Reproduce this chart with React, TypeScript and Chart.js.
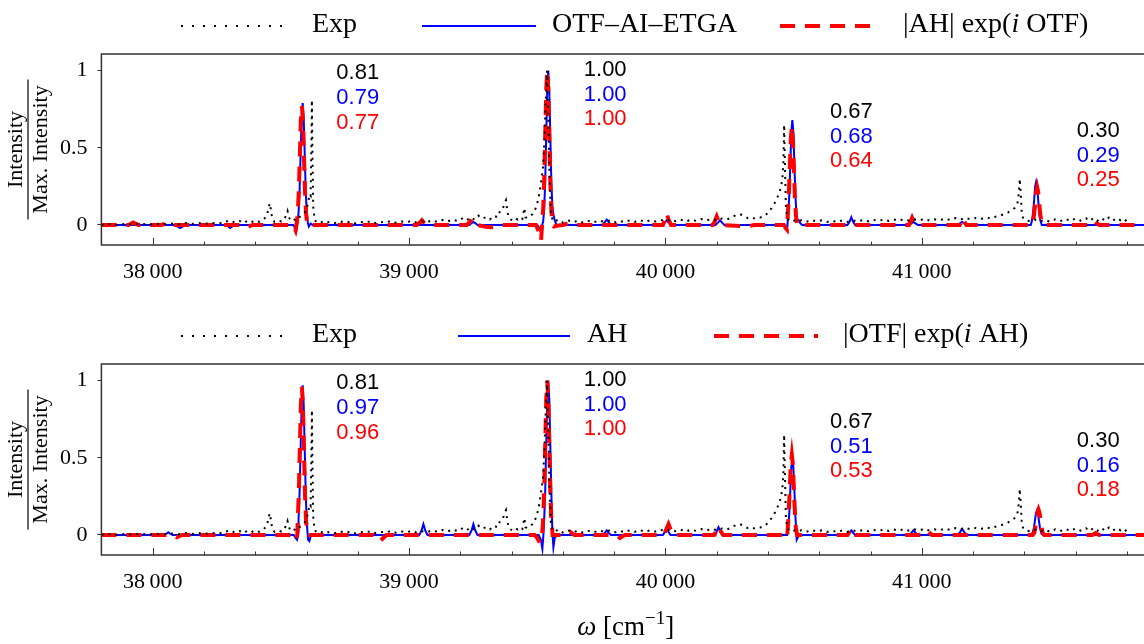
import React, { useEffect, useRef } from 'react';
import { Chart, registerables } from 'chart.js';
Chart.register(...registerables);

type P = [number, number];

// ---------- data (wavenumber in cm^-1, normalised intensity) ----------
const EXP: P[] = [
  [37800,0.002],[37830,0.006],[37860,0.001],[37890,0.007],[37920,0.003],[37950,0.008],[37980,0.002],[38010,0.009],
  [38040,0.004],[38070,0.01],[38100,0.005],[38130,0.012],[38160,0.006],[38190,0.013],[38220,0.007],[38250,0.016],
  [38270,0.01],[38290,0.024],[38305,0.03],[38320,0.015],[38340,0.025],[38355,0.012],[38370,0.028],[38385,0.018],
  [38400,0.03],[38415,0.02],[38430,0.035],[38442,0.05],[38450,0.09],[38456,0.14],[38461,0.1],[38466,0.04],
  [38475,0.02],[38490,0.03],[38502,0.022],[38512,0.035],[38520,0.06],[38526,0.09],[38531,0.05],[38540,0.025],
  [38552,0.035],[38562,0.03],[38572,0.05],[38582,0.06],[38592,0.08],[38600,0.1],[38607,0.15],[38612,0.2],
  [38616,0.19],[38619,0.5],[38621,0.81],[38623,0.5],[38626,0.12],[38632,0.03],[38642,0.015],[38655,0.022],
  [38670,0.01],[38690,0.02],[38710,0.012],[38730,0.024],[38750,0.014],[38770,0.022],[38790,0.01],[38810,0.02],
  [38830,0.015],[38850,0.025],[38870,0.012],[38890,0.02],[38910,0.016],[38930,0.026],[38950,0.013],[38970,0.022],
  [38990,0.017],[39010,0.027],[39030,0.015],[39050,0.024],[39070,0.018],[39090,0.03],[39110,0.02],[39130,0.032],
  [39150,0.022],[39170,0.035],[39190,0.025],[39210,0.045],[39225,0.03],[39240,0.05],[39255,0.035],[39270,0.06],
  [39285,0.04],[39300,0.05],[39315,0.035],[39330,0.06],[39345,0.05],[39355,0.09],[39365,0.1],[39372,0.14],
  [39378,0.16],[39384,0.08],[39392,0.04],[39402,0.03],[39414,0.045],[39424,0.035],[39434,0.05],[39442,0.04],
  [39450,0.11],[39454,0.05],[39462,0.045],[39472,0.06],[39482,0.07],[39492,0.1],[39500,0.14],[39508,0.2],
  [39515,0.28],[39522,0.36],[39528,0.55],[39533,0.8],[39538,1.0],[39543,0.7],[39548,0.3],[39553,0.08],
  [39560,0.03],[39570,0.02],[39580,0.035],[39600,0.015],[39620,0.03],[39640,0.018],[39660,0.028],[39680,0.014],
  [39700,0.026],[39720,0.016],[39740,0.03],[39760,0.02],[39780,0.028],[39800,0.015],[39820,0.027],[39840,0.018],
  [39860,0.03],[39880,0.02],[39900,0.032],[39920,0.019],[39940,0.03],[39960,0.022],[39980,0.034],[40000,0.025],
  [40020,0.036],[40040,0.024],[40060,0.034],[40080,0.022],[40100,0.035],[40120,0.026],[40140,0.038],[40160,0.028],
  [40180,0.04],[40200,0.03],[40220,0.042],[40240,0.035],[40260,0.05],[40275,0.065],[40290,0.07],[40305,0.06],
  [40320,0.045],[40335,0.05],[40350,0.04],[40365,0.048],[40380,0.05],[40395,0.07],[40410,0.1],[40422,0.13],
  [40432,0.16],[40442,0.2],[40450,0.24],[40456,0.3],[40460,0.4],[40463,0.65],[40466,0.4],[40470,0.1],
  [40476,0.04],[40484,0.03],[40494,0.02],[40504,0.03],[40514,0.022],[40530,0.03],[40550,0.02],[40570,0.032],
  [40590,0.022],[40610,0.03],[40630,0.02],[40650,0.028],[40670,0.018],[40690,0.03],[40710,0.02],[40730,0.03],
  [40750,0.022],[40770,0.032],[40790,0.024],[40810,0.034],[40830,0.025],[40850,0.035],[40870,0.026],[40890,0.036],
  [40910,0.027],[40930,0.038],[40950,0.028],[40970,0.037],[40990,0.029],[41010,0.04],[41030,0.028],[41050,0.036],
  [41070,0.03],[41090,0.042],[41110,0.032],[41130,0.044],[41150,0.034],[41170,0.046],[41190,0.036],[41210,0.045],
  [41230,0.038],[41250,0.05],[41270,0.042],[41290,0.055],[41305,0.06],[41320,0.07],[41335,0.08],[41350,0.095],
  [41362,0.11],[41372,0.13],[41378,0.2],[41382,0.3],[41386,0.2],[41390,0.07],[41396,0.04],[41405,0.03],
  [41420,0.025],[41440,0.035],[41460,0.022],[41480,0.034],[41500,0.02],[41520,0.036],[41540,0.024],[41560,0.04],
  [41580,0.026],[41600,0.042],[41620,0.028],[41640,0.044],[41655,0.025],[41670,0.045],[41685,0.027],[41700,0.046],
  [41715,0.026],[41730,0.048],[41745,0.028],[41760,0.045],[41775,0.03],[41790,0.04],[41800,0.02],
];

const OTF_AI_ETGA: P[] = [
  [37800,0],[38080,0],[38095,-0.008],[38107,-0.02],[38120,-0.008],[38135,0],[38285,0],[38295,-0.01],[38302,-0.02],
  [38312,-0.008],[38325,0],[38548,0],[38556,-0.02],[38561,-0.03],[38565,0.016],[38569,0.08],[38573,0.22],[38577,0.46],
  [38581,0.7],[38585,0.79],[38589,0.7],[38593,0.46],[38597,0.22],[38601,0.08],[38605,0.016],[38609,-0.01],[38616,0.008],
  [38624,0],[39235,0],[39244,0.012],[39251,0.02],[39258,0.012],[39267,0],[39500,0],[39508,-0.02],[39515,-0.05],
  [39519,0],[39523,0.02],[39527,0.1],[39531,0.28],[39535,0.58],[39539,0.88],[39543,1.0],[39547,0.88],[39551,0.58],
  [39555,0.28],[39559,0.12],[39563,0.07],[39568,0.03],[39575,0],[39755,0],[39764,0.02],[39771,0.035],[39778,0.02],
  [39787,0],[39990,0],[39998,0.015],[40005,0.03],[40012,0.015],[40020,0],[40195,0],[40205,0.015],[40213,0.03],
  [40221,0.015],[40230,0],[40462,0],[40470,-0.01],[40475,-0.02],[40479,0.07],[40483,0.19],[40487,0.39],[40491,0.6],
  [40495,0.68],[40499,0.6],[40503,0.39],[40507,0.19],[40511,0.07],[40515,0.03],[40520,0.03],[40526,0.01],[40534,0],
  [40710,0],[40718,0.02],[40725,0.05],[40732,0.02],[40740,0],[40950,0],[40960,0.012],[40967,0.02],[40975,0.01],
  [40985,0],[41140,0],[41150,0.012],[41157,0.02],[41165,0.01],[41175,0],[41425,0],[41430,0.03],[41434,0.08],
  [41438,0.16],[41442,0.25],[41446,0.28],[41450,0.25],[41454,0.16],[41458,0.08],[41462,0.03],[41468,0],[41890,0],
];

const AH_EXP_I_OTF: P[] = [
  [37800,0],[37905,0],[37915,0.008],[37924,0.016],[37933,0.008],[37945,0],[38035,0],[38046,0.008],[38055,0.016],
  [38064,0.008],[38075,0],[38345,0],[38356,-0.008],[38367,-0.016],[38378,-0.008],[38390,0],[38548,0],[38553,-0.02],
  [38557,-0.035],[38562,0.015],[38566,0.08],[38570,0.22],[38574,0.45],[38578,0.68],[38582,0.77],[38586,0.68],
  [38590,0.45],[38594,0.22],[38598,0.08],[38602,0.015],[38607,-0.005],[38614,0],[39030,0],[39042,0.015],[39050,0.03],
  [39058,0.015],[39070,0],[39225,0],[39237,0.02],[39245,0.04],[39253,0.02],[39265,0],[39300,-0.012],[39320,-0.015],
  [39340,-0.01],[39360,0],[39495,0],[39503,-0.03],[39510,-0.08],[39515,-0.1],[39519,0],[39523,0.1],[39527,0.28],
  [39531,0.58],[39535,0.88],[39539,1.0],[39543,0.88],[39547,0.58],[39551,0.28],[39555,0.1],[39559,0],[39565,-0.01],
  [39575,-0.005],[39600,0],[39620,0.01],[39635,0.01],[39650,0],[39990,0],[39998,0.035],[40005,0.075],[40012,0.035],
  [40022,0],[40185,0],[40193,0.025],[40200,0.055],[40207,0.025],[40217,0],[40320,-0.01],[40345,0],[40462,0],
  [40469,-0.02],[40474,-0.03],[40477,0.06],[40481,0.18],[40485,0.37],[40489,0.56],[40493,0.64],[40497,0.56],
  [40501,0.37],[40505,0.18],[40509,0.06],[40514,0],[40522,0],[40950,0],[40956,0.02],[40962,0.045],[40968,0.02],
  [40976,0],[41148,0],[41154,0.02],[41160,0.045],[41166,0.02],[41174,0],[41430,0],[41434,0.025],[41438,0.07],
  [41442,0.14],[41446,0.215],[41450,0.245],[41454,0.215],[41458,0.14],[41462,0.07],[41466,0.025],[41472,0],
  [41665,0],[41672,0.01],[41677,0.02],[41683,0.01],[41692,0],[41890,0],
];

const AH: P[] = [
  [37800,0],[38045,0],[38054,0.008],[38061,0.017],[38068,0.008],[38078,0],[38550,0],[38558,-0.02],[38563,-0.03],
  [38567,0.02],[38569,0.1],[38573,0.27],[38577,0.56],[38581,0.85],[38585,0.97],[38589,0.85],[38593,0.56],[38597,0.27],
  [38601,0.08],[38606,-0.03],[38611,-0.04],[38616,-0.01],[38624,0],[39040,0],[39049,0.03],[39056,0.07],[39063,0.03],
  [39072,0],[39235,0],[39244,0.03],[39251,0.07],[39258,0.03],[39267,0],[39505,0],[39514,-0.03],[39520,-0.09],
  [39524,0],[39527,0.1],[39531,0.28],[39535,0.58],[39539,0.88],[39543,1.0],[39547,0.88],[39551,0.58],[39555,0.28],
  [39559,0.02],[39563,-0.08],[39568,-0.02],[39576,0],[39755,0],[39764,0.015],[39771,0.03],[39778,0.015],[39787,0],
  [39990,0],[39998,0.02],[40005,0.04],[40012,0.02],[40020,0],[40195,0],[40200,0.025],[40207,0.05],[40214,0.025],
  [40225,0],[40465,0],[40475,0],[40479,0.05],[40483,0.14],[40487,0.29],[40491,0.44],[40495,0.5],[40499,0.44],
  [40503,0.29],[40507,0.12],[40512,-0.03],[40518,-0.01],[40526,0],[40710,0],[40718,0.015],[40725,0.03],[40732,0.015],
  [40740,0],[40950,0],[40960,0.015],[40967,0.03],[40975,0.015],[40985,0],[41140,0],[41150,0.02],[41157,0.04],
  [41165,0.02],[41175,0],[41428,0],[41433,0.02],[41437,0.045],[41441,0.09],[41445,0.14],[41449,0.157],[41453,0.14],
  [41457,0.09],[41461,0.045],[41466,0.01],[41472,0],[41890,0],
];

const OTF_EXP_I_AH: P[] = [
  [37800,0],[38075,0],[38085,-0.008],[38094,-0.015],[38103,-0.008],[38115,0],[38548,0],[38555,-0.02],[38560,-0.03],
  [38564,0],[38566,0.1],[38570,0.27],[38574,0.56],[38578,0.84],[38582,0.96],[38586,0.84],[38590,0.56],[38594,0.27],
  [38598,0.1],[38603,0.01],[38610,0],[38860,0],[38875,-0.02],[38887,-0.04],[38899,-0.02],[38912,0],[39490,0],
  [39500,-0.02],[39510,-0.05],[39518,-0.02],[39523,0.1],[39527,0.28],[39531,0.58],[39535,0.88],[39539,1.0],
  [39543,0.88],[39547,0.58],[39551,0.28],[39555,0.1],[39560,0],[39568,0],[39612,0],[39620,0.01],[39628,0.02],
  [39636,0.01],[39645,0],[39805,0],[39815,-0.01],[39823,-0.02],[39831,-0.01],[39842,0],[39995,0],[40003,0.035],
  [40012,0.07],[40020,0.035],[40030,0],[40190,0],[40198,0.025],[40207,0.055],[40215,0.025],[40225,0],[40462,0],
  [40470,-0.01],[40474,-0.02],[40477,0.04],[40481,0.15],[40485,0.3],[40489,0.46],[40493,0.52],[40497,0.46],
  [40501,0.3],[40505,0.15],[40509,0.04],[40514,0],[40522,0],[40710,0],[40718,0.02],[40725,0.04],[40732,0.02],
  [40742,0],[41015,0],[41020,0.01],[41026,0.02],[41032,0.01],[41040,0],[41432,0],[41439,0.015],[41443,0.05],
  [41447,0.1],[41451,0.145],[41455,0.165],[41459,0.145],[41463,0.1],[41467,0.05],[41471,0.015],[41478,0],
  [41665,0],[41672,0.006],[41677,0.012],[41683,0.006],[41692,0],[41890,0],
];

// peak-ratio annotations
const LABEL_X = [38800, 39765, 40725, 41688];
const LABEL_Y = [0.983, 1.005, 0.732, 0.609];
const EXP_RATIOS = ['0.81', '1.00', '0.67', '0.30'];
const TOP_BLUE_RATIOS = ['0.79', '1.00', '0.68', '0.29'];
const TOP_RED_RATIOS = ['0.77', '1.00', '0.64', '0.25'];
const BOT_BLUE_RATIOS = ['0.97', '1.00', '0.51', '0.16'];
const BOT_RED_RATIOS = ['0.96', '1.00', '0.53', '0.18'];

// axes
const X_MIN = 37800;
const X_MAX = 41890;
const Y_MIN = -0.13;
const Y_MAX = 1.108;
const X_MAJOR_TICKS = [38000, 39000, 40000, 41000];
const X_MINOR_STEP = 200;
const Y_TICKS = [0, 0.5, 1];

// ---------- styles ----------
const SERIF = '"Liberation Serif", "Times New Roman", serif';
const SANS = '"Liberation Sans", Arial, sans-serif';
const BLACK = '#000000';
const BLUE = '#0000ff';
const RED = '#ff0000';
const AXIS = '#333333';
const EXP_DASH = [2, 5];
const EXP_LEGEND_DASH = [2, 9];
const RED_DASH = [15, 10];
const CANVAS_W = 1152;

type Part = { t: string; it?: boolean };
type LegendItem = { kind: 'exp' | 'blue' | 'red'; x1: number; x2: number; tx: number; parts: Part[] };

interface PanelCfg {
  blue: P[];
  red: P[];
  blueLabel: string;
  redLabel: string;
  blueRatios: string[];
  redRatios: string[];
  legend: LegendItem[];
  xAxisHeight: number;
  showXTitle: boolean;
}

function styleFor(ctx: CanvasRenderingContext2D, kind: string) {
  if (kind === 'exp') { ctx.strokeStyle = BLACK; ctx.lineWidth = 2; ctx.setLineDash(EXP_LEGEND_DASH); }
  else if (kind === 'blue') { ctx.strokeStyle = BLUE; ctx.lineWidth = 2; ctx.setLineDash([]); }
  else { ctx.strokeStyle = RED; ctx.lineWidth = 4; ctx.setLineDash(RED_DASH); }
}

function drawParts(ctx: CanvasRenderingContext2D, parts: Part[], x: number, y: number, size: number) {
  let cx = x;
  for (const p of parts) {
    ctx.font = `${p.it ? 'italic ' : ''}${size}px ${SERIF}`;
    ctx.fillText(p.t, cx, y);
    cx += ctx.measureText(p.t).width;
  }
}

function makeChart(canvas: HTMLCanvasElement, cfg: PanelCfg) {
  const decor = {
    id: 'panelDecor',
    afterDraw(chart: any) {
      const ctx: CanvasRenderingContext2D = chart.ctx;
      const { left, right, top, bottom } = chart.chartArea;
      const xs = chart.scales.x;
      const ys = chart.scales.y;
      ctx.save();
      // frame
      ctx.setLineDash([]);
      ctx.strokeStyle = AXIS;
      ctx.lineWidth = 1.5;
      ctx.strokeRect(left, top, right - left, bottom - top);
      // inward x ticks
      ctx.lineWidth = 1;
      for (let v = Math.ceil(X_MIN / X_MINOR_STEP) * X_MINOR_STEP; v <= X_MAX; v += X_MINOR_STEP) {
        const px = Math.round(xs.getPixelForValue(v)) + 0.5;
        const len = v % 1000 === 0 ? 7 : 3.5;
        ctx.beginPath();
        ctx.moveTo(px, bottom);
        ctx.lineTo(px, bottom - len);
        ctx.stroke();
      }
      // legend
      const ly = 26;
      for (const it of cfg.legend) {
        styleFor(ctx, it.kind);
        ctx.beginPath();
        ctx.moveTo(it.x1, ly);
        ctx.lineTo(it.x2, ly);
        ctx.stroke();
        ctx.fillStyle = BLACK;
        ctx.textBaseline = 'alphabetic';
        ctx.textAlign = 'left';
        drawParts(ctx, it.parts, it.tx, ly + 6, 28);
      }
      // y-axis title as fraction
      ctx.setLineDash([]);
      ctx.save();
      ctx.translate(28, (top + bottom) / 2);
      ctx.rotate(-Math.PI / 2);
      ctx.fillStyle = BLACK;
      ctx.textAlign = 'center';
      ctx.textBaseline = 'alphabetic';
      ctx.font = `22px ${SERIF}`;
      ctx.fillText('Intensity', 0, -6);
      ctx.fillText('Max. Intensity', 0, 19);
      ctx.strokeStyle = BLACK;
      ctx.lineWidth = 1.2;
      ctx.beginPath();
      ctx.moveTo(-70, 0);
      ctx.lineTo(70, 0);
      ctx.stroke();
      ctx.restore();
      // ratio annotations
      ctx.font = `22px ${SANS}`;
      ctx.textAlign = 'center';
      ctx.textBaseline = 'middle';
      for (let i = 0; i < LABEL_X.length; i++) {
        const px = xs.getPixelForValue(LABEL_X[i]);
        const py = ys.getPixelForValue(LABEL_Y[i]);
        ctx.fillStyle = BLACK;
        ctx.fillText(EXP_RATIOS[i], px, py);
        ctx.fillStyle = BLUE;
        ctx.fillText(cfg.blueRatios[i], px, py + 24.7);
        ctx.fillStyle = RED;
        ctx.fillText(cfg.redRatios[i], px, py + 49.4);
      }
      // x-axis title
      if (cfg.showXTitle) {
        const cx = (xs.left + xs.right) / 2;
        const by = chart.height - 9;
        const sz = 27;
        const pieces: { t: string; f: string; dy: number }[] = [
          { t: 'ω', f: `italic ${sz}px ${SERIF}`, dy: 0 },
          { t: ' [cm', f: `${sz}px ${SERIF}`, dy: 0 },
          { t: '\u22121', f: `${Math.round(sz * 0.7)}px ${SERIF}`, dy: -11 },
          { t: ']', f: `${sz}px ${SERIF}`, dy: 0 },
        ];
        let w = 0;
        for (const p of pieces) { ctx.font = p.f; w += ctx.measureText(p.t).width; }
        let x = cx - w / 2;
        ctx.fillStyle = BLACK;
        ctx.textAlign = 'left';
        ctx.textBaseline = 'alphabetic';
        for (const p of pieces) {
          ctx.font = p.f;
          ctx.fillText(p.t, x, by + p.dy);
          x += ctx.measureText(p.t).width;
        }
      }
      ctx.restore();
    },
  };

  const toXY = (arr: P[]) => arr.map(([x, y]) => ({ x, y }));

  return new Chart(canvas, {
    type: 'line',
    data: {
      datasets: [
        { label: 'Exp', data: toXY(EXP), borderColor: BLACK, borderWidth: 2, borderDash: EXP_DASH, pointRadius: 0, tension: 0, order: 0 } as any,
        { label: cfg.blueLabel, data: toXY(cfg.blue), borderColor: BLUE, borderWidth: 2, pointRadius: 0, tension: 0, order: 2 } as any,
        { label: cfg.redLabel, data: toXY(cfg.red), borderColor: RED, borderWidth: 4, borderDash: RED_DASH, pointRadius: 0, tension: 0, order: 1 } as any,
      ],
    },
    options: {
      responsive: false,
      animation: false,
      events: [],
      layout: { padding: { top: 54, left: 0, right: 2, bottom: 0 } },
      plugins: { legend: { display: false }, tooltip: { enabled: false }, title: { display: false } },
      scales: {
        x: {
          type: 'linear',
          min: X_MIN,
          max: X_MAX,
          afterBuildTicks: (s: any) => { s.ticks = X_MAJOR_TICKS.map((v) => ({ value: v })); },
          afterFit: (s: any) => { s.height = cfg.xAxisHeight; },
          grid: { display: false, drawTicks: false },
          border: { display: false },
          ticks: {
            autoSkip: false,
            maxRotation: 0,
            padding: 14,
            color: BLACK,
            font: { family: SERIF, size: 22 },
            callback: (v: any) => `${Math.floor(Number(v) / 1000)}\u2009000`,
          },
        },
        y: {
          type: 'linear',
          min: Y_MIN,
          max: Y_MAX,
          afterBuildTicks: (s: any) => { s.ticks = Y_TICKS.map((v) => ({ value: v })); },
          afterFit: (s: any) => { s.width = 101.4; },
          grid: { display: true, drawOnChartArea: false, drawTicks: true, tickLength: 4, color: AXIS, lineWidth: 1 },
          border: { display: false },
          ticks: {
            padding: 10,
            color: BLACK,
            font: { family: SERIF, size: 22 },
            callback: (v: any) => String(v),
          },
        },
      },
    } as any,
    plugins: [decor],
  });
}

export default function App() {
  const c1 = useRef<HTMLCanvasElement>(null);
  const c2 = useRef<HTMLCanvasElement>(null);

  useEffect(() => {
    const a = makeChart(c1.current!, {
      blue: OTF_AI_ETGA,
      red: AH_EXP_I_OTF,
      blueLabel: 'OTF–AI–ETGA',
      redLabel: '|AH| exp(i OTF)',
      blueRatios: TOP_BLUE_RATIOS,
      redRatios: TOP_RED_RATIOS,
      legend: [
        { kind: 'exp', x1: 181, x2: 288, tx: 312, parts: [{ t: 'Exp' }] },
        { kind: 'blue', x1: 422, x2: 536, tx: 552, parts: [{ t: 'OTF–AI–ETGA' }] },
        { kind: 'red', x1: 780, x2: 876, tx: 903, parts: [{ t: '|AH| exp(' }, { t: 'i', it: true }, { t: ' OTF)' }] },
      ],
      xAxisHeight: 65,
      showXTitle: false,
    });
    const b = makeChart(c2.current!, {
      blue: AH,
      red: OTF_EXP_I_AH,
      blueLabel: 'AH',
      redLabel: '|OTF| exp(i AH)',
      blueRatios: BOT_BLUE_RATIOS,
      redRatios: BOT_RED_RATIOS,
      legend: [
        { kind: 'exp', x1: 181, x2: 288, tx: 312, parts: [{ t: 'Exp' }] },
        { kind: 'blue', x1: 458, x2: 570, tx: 587, parts: [{ t: 'AH' }] },
        { kind: 'red', x1: 714, x2: 818, tx: 843, parts: [{ t: '|OTF| exp(' }, { t: 'i', it: true }, { t: ' AH)' }] },
      ],
      xAxisHeight: 89,
      showXTitle: true,
    });
    return () => { a.destroy(); b.destroy(); };
  }, []);

  return (
    <div style={{ position: 'fixed', left: 0, top: 0, width: 1144, height: 644, overflow: 'hidden', background: '#ffffff' }}>
      <canvas ref={c1} width={CANVAS_W} height={310} style={{ position: 'absolute', left: 0, top: 0, width: CANVAS_W, height: 310 }} />
      <canvas ref={c2} width={CANVAS_W} height={334} style={{ position: 'absolute', left: 0, top: 310, width: CANVAS_W, height: 334 }} />
    </div>
  );
}
